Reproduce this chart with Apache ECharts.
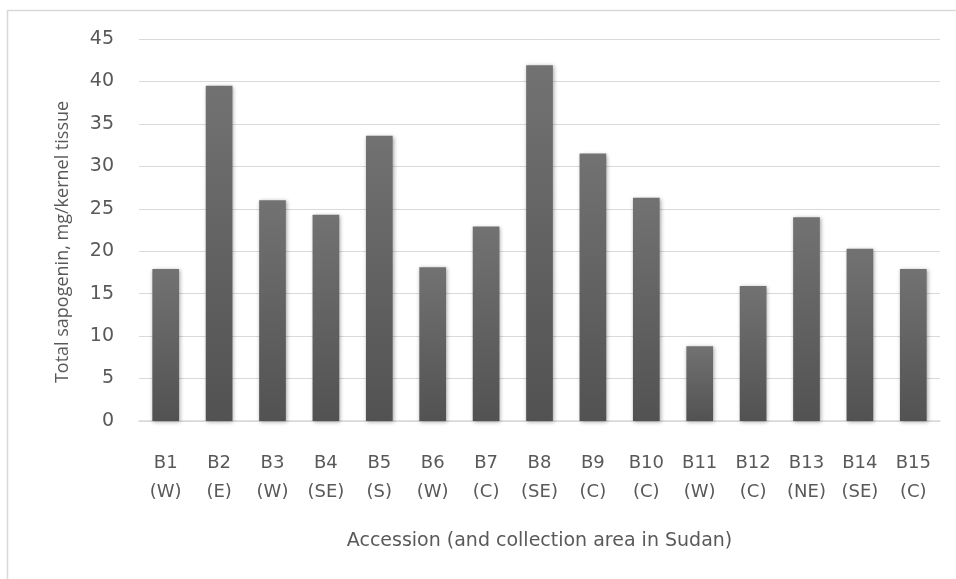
<!DOCTYPE html>
<html><head><meta charset="utf-8">
<script src="https://cdn.jsdelivr.net/npm/echarts@6/dist/echarts.min.js"></script>
<style>html,body{margin:0;padding:0;background:#fff}#c{width:956px;height:579px}</style>
</head><body><div id="c"></div>
<script>
const accessions = ['B1','B2','B3','B4','B5','B6','B7','B8','B9','B10','B11','B12','B13','B14','B15'];
const areas = ['W','E','W','SE','S','W','C','SE','C','C','W','C','NE','SE','C'];
const sapogenin = [17.9, 39.5, 26.0, 24.3, 33.6, 18.1, 22.9, 41.9, 31.5, 26.3, 8.8, 15.9, 24.0, 20.3, 17.9];
const yTicks = [0,5,10,15,20,25,30,35,40,45];

const categories = accessions.map((a,i)=>a+'\n('+areas[i]+')');
const chart = echarts.init(document.getElementById('c'));
chart.setOption({
  animation:false,
  graphic:[{type:'rect',shape:{x:7.5,y:10.5,width:960,height:600},style:{fill:'none',stroke:'#d9d9d9',lineWidth:1.5}}],
  grid:{left:139,right:16,top:39,bottom:158},
  xAxis:{type:'category',data:categories,
    axisLine:{lineStyle:{color:'#d9d9d9',width:1.5}},axisTick:{show:false},
    axisLabel:{color:'#595959',fontFamily:'DejaVu Sans',fontSize:18,lineHeight:29,margin:28},
    name:'Accession (and collection area in Sudan)',nameLocation:'middle',nameGap:111,
    nameTextStyle:{color:'#595959',fontFamily:'DejaVu Sans',fontSize:19}},
  yAxis:{type:'value',min:yTicks[0],max:yTicks[yTicks.length-1],interval:5,
    axisLine:{show:false},axisTick:{show:false},
    splitLine:{lineStyle:{color:'#d9d9d9',width:1}},
    axisLabel:{color:'#595959',fontFamily:'DejaVu Sans',fontSize:19,margin:25},
    name:'Total sapogenin, mg/kernel tissue',nameLocation:'middle',nameGap:67,
    nameTextStyle:{color:'#595959',fontFamily:'Open Sans',fontSize:18,padding:[0,24,0,0]}},
  series:[{type:'bar',data:sapogenin,barWidth:'50%',
    itemStyle:{color:new echarts.graphic.LinearGradient(0,0,0,1,[{offset:0,color:'#727272'},{offset:1,color:'#525252'}]),
      shadowColor:'rgba(0,0,0,0.35)',shadowBlur:4,shadowOffsetX:1,shadowOffsetY:1}}]
});
</script></body></html>
